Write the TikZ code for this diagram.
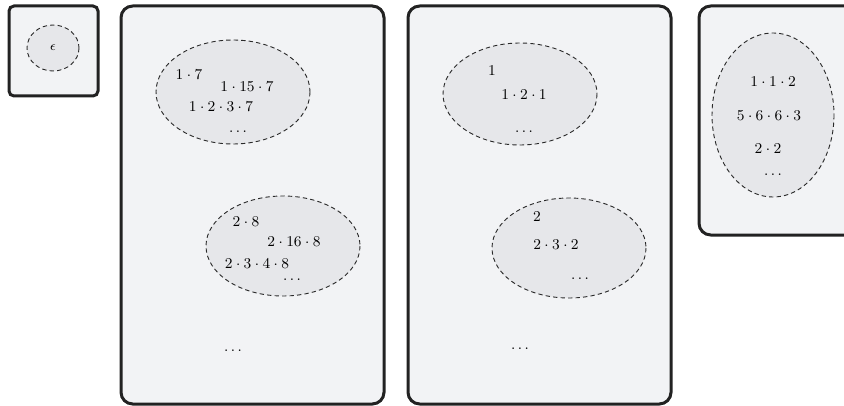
\documentclass[tikz,border=0pt]{standalone}
\usepackage{xcolor}
\definecolor{boxfill}{HTML}{F2F3F5}
\definecolor{boxline}{HTML}{222222}
\definecolor{ellfill}{HTML}{E6E7EA}
\definecolor{elline}{HTML}{2A2A2A}
\begin{document}
\begin{tikzpicture}[x=0.6pt,y=-0.6pt,
  panel/.style={draw=boxline,fill=boxfill,line width=1.8pt,rounded corners=7pt},
  smallpanel/.style={draw=boxline,fill=boxfill,line width=1.8pt,rounded corners=3pt},
  group/.style={draw=elline,fill=ellfill,line width=0.55pt,dash pattern=on 2.6pt off 1.9pt},
  lbl/.style={inner sep=0pt,font=\fontsize{9.4}{11}\selectfont}]
\useasboundingbox (0,0) rectangle (844,406);
\clip (0,0) rectangle (844,406);
% panels
\draw[smallpanel] (9,6) rectangle (98,96);
\draw[panel] (121,6) rectangle (384,404);
\draw[panel] (408,6) rectangle (671,404);
\draw[panel] (699,6) rectangle (880,235);
% groups
\draw[group] (53,48) ellipse [x radius=26,y radius=23];
\draw[group] (233,92) ellipse [x radius=77,y radius=52];
\draw[group] (283,246) ellipse [x radius=77,y radius=50];
\draw[group] (520,94) ellipse [x radius=77,y radius=51];
\draw[group] (569,248) ellipse [x radius=77,y radius=50];
\draw[group] (773,115) ellipse [x radius=61,y radius=82];
% labels
\node[lbl,font=\fontsize{8}{9}\selectfont] (eps) at (53,48) {$\epsilon$};
\node[lbl] (a1) at (189,75) {$1\cdot 7$};
\node[lbl] (a2) at (247,87) {$1\cdot 15\cdot 7$};
\node[lbl] (a3) at (221,107) {$1\cdot 2\cdot 3\cdot 7$};
\node[lbl] (a4) at (238,132) {$\dots$};
\node[lbl] (b1) at (246,222) {$2\cdot 8$};
\node[lbl] (b2) at (294,242) {$2\cdot 16\cdot 8$};
\node[lbl] (b3) at (257,264) {$2\cdot 3\cdot 4\cdot 8$};
\node[lbl] (b4) at (292,280) {$\dots$};
\node[lbl] (c1) at (492,71) {$1$};
\node[lbl] (c2) at (524,95) {$1\cdot 2\cdot 1$};
\node[lbl] (c3) at (524,132) {$\dots$};
\node[lbl] (d1) at (537,217) {$2$};
\node[lbl] (d2) at (556,245) {$2\cdot 3\cdot 2$};
\node[lbl] (d3) at (580,279) {$\dots$};
\node[lbl] (e1) at (773,82) {$1\cdot 1\cdot 2$};
\node[lbl] (e2) at (769,116) {$5\cdot 6\cdot 6\cdot 3$};
\node[lbl] (e3) at (768,149) {$2\cdot 2$};
\node[lbl] (e4) at (773,175) {$\dots$};
\node[lbl] (f1) at (233,351) {$\dots$};
\node[lbl] (g1) at (520,349) {$\dots$};
\end{tikzpicture}
\end{document}
